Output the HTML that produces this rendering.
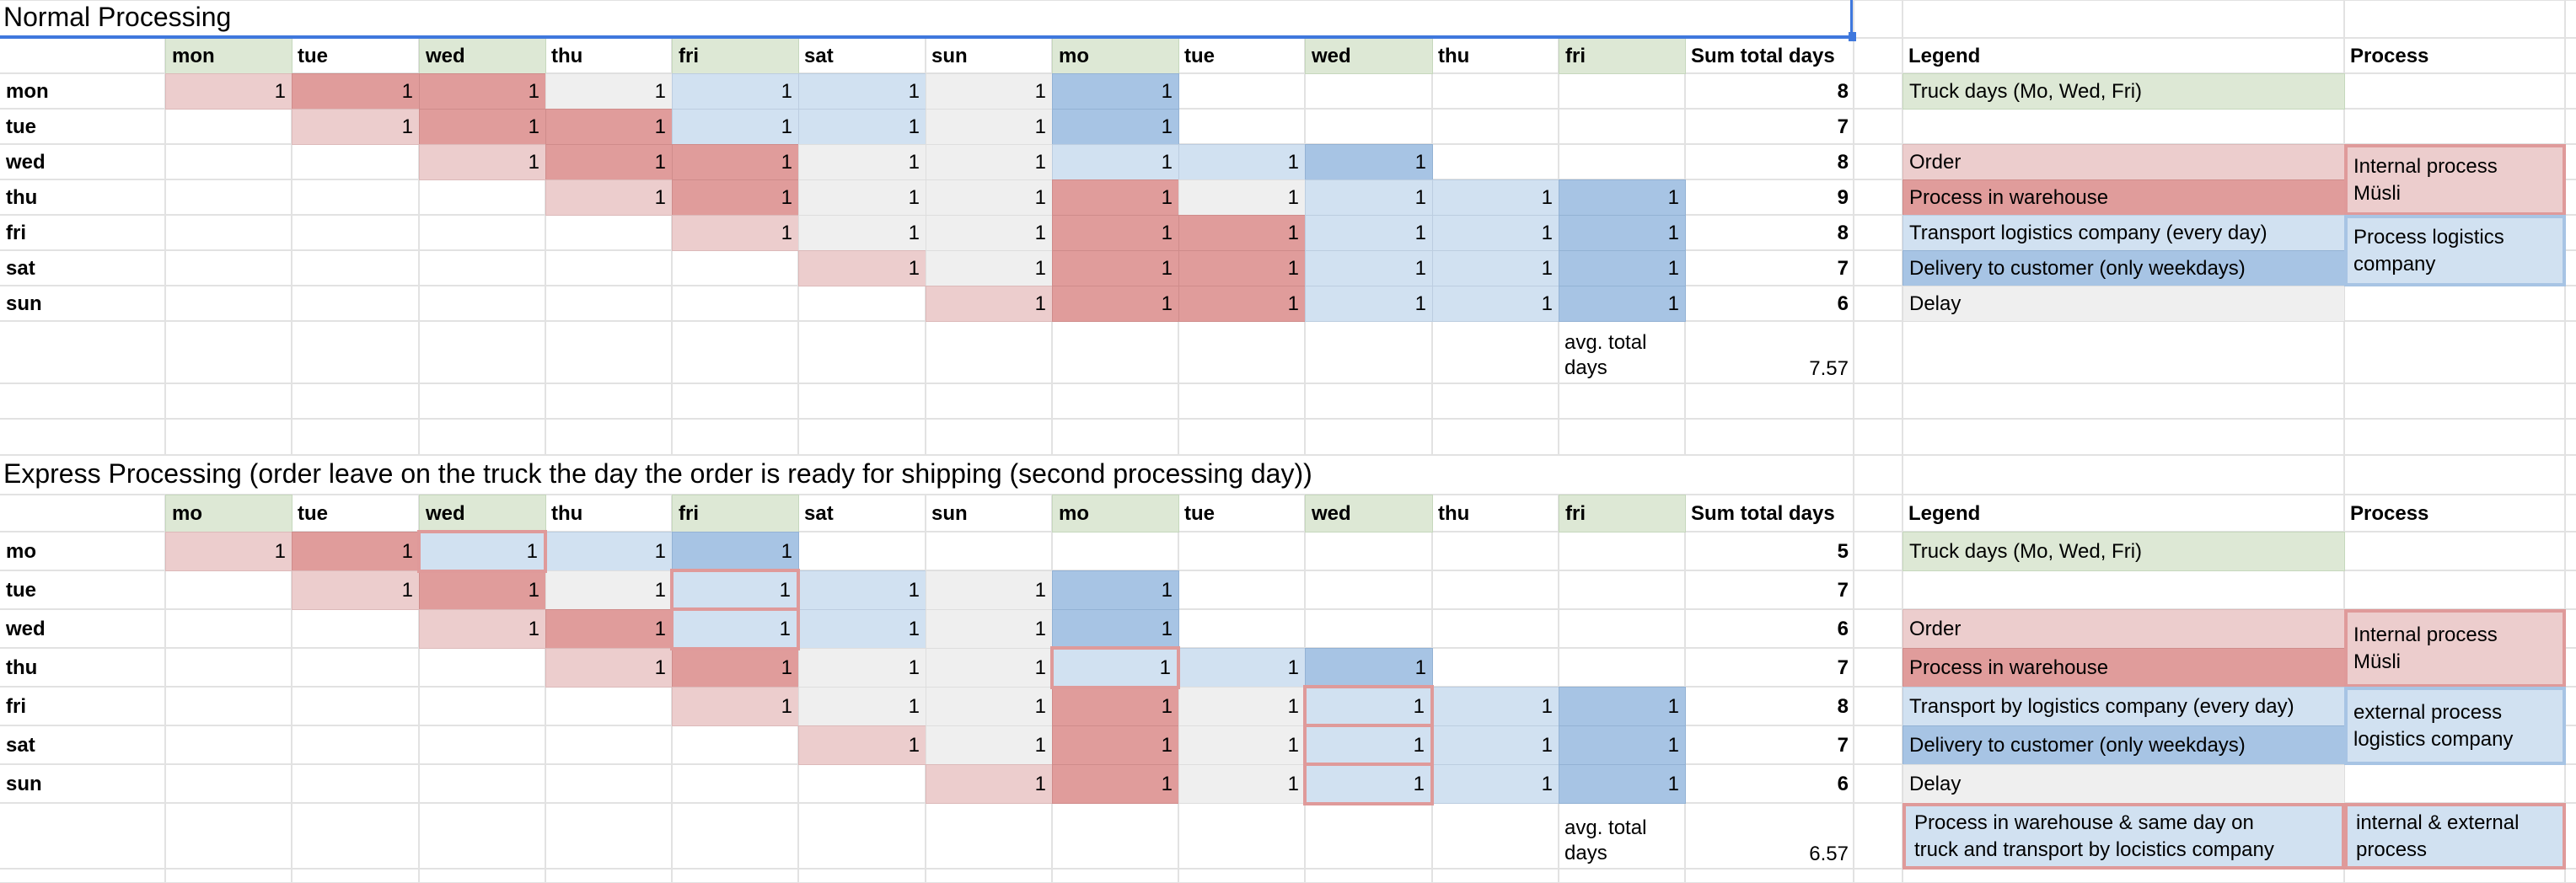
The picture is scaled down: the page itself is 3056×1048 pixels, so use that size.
<!DOCTYPE html>
<html><head><meta charset="utf-8">
<style>
html,body{margin:0;padding:0;background:#fff;}
#root{position:relative;width:3056px;height:1048px;overflow:hidden;background:#fff;font-family:"Liberation Sans",Arial,sans-serif;color:#000;}
.c{position:absolute;box-sizing:border-box;font-size:24px;white-space:nowrap;display:flex;align-items:center;padding:0 7px;}
.r{justify-content:flex-end;}
.b{font-weight:bold;}
.hl{position:absolute;height:2px;background:#e2e2e2;}
.vl{position:absolute;width:2px;background:#e2e2e2;}
.t{position:absolute;font-size:32px;white-space:nowrap;}
</style></head>
<body>
<div id="root"></div>
<script>
const normalHeaders = ['mon','tue','wed','thu','fri','sat','sun','mo','tue','wed','thu','fri'];
const expressHeaders = ['mo','tue','wed','thu','fri','sat','sun','mo','tue','wed','thu','fri'];
const truckCols = [0,2,4,7,9,11];
const normalRowLabels = ['mon','tue','wed','thu','fri','sat','sun'];
const expressRowLabels = ['mo','tue','wed','thu','fri','sat','sun'];
const normalStarts = [0,1,2,3,4,5,6];
const normalCodes = ['OPPGTTGD','OPPTTGD','OPPGGTTD','OPGGPGTTD','OGGPPTTD','OGPPTTD','OPPTTD'];
const normalSums = [8,7,8,9,8,7,6];
const normalAvg = '7.57';
const expressStarts = [0,1,2,3,4,5,6];
const expressCodes = ['OPXTD','OPGXTGD','OPXTGD','OPGGXTD','OGGPGXTD','OGPGXTD','OPGXTD'];
const expressSums = [5,7,6,7,8,7,6];
const expressAvg = '6.57';

const root = document.getElementById('root');
const COLORS = {O:'#eccdcd',P:'#e09c9b',T:'#d1e1f1',X:'#d1e1f1',D:'#a7c4e4',G:'#efefef',H:'#dde8d5'};
const EDGE = {O:'#dcb9b9',P:'#cf8c8b',T:'#bccde0',X:'#bccde0',D:'#93b2d4',G:'#dedede',H:'#c6d8bd'};
const RED = '#df9a9a';
const colX = [0,196];
for(let i=1;i<=12;i++) colX.push(Math.round(196+150.25*i));
colX.push(2199,2257,2781,3043,3056);
const topRows=[45,87];for(let i=1;i<=7;i++)topRows.push(87+42*i);topRows.push(455,497,540);
const botRows=[587,631];for(let i=1;i<=7;i++)botRows.push(631+46*i);botRows.push(1031);

function el(cls,x,y,w,h){const d=document.createElement('div');d.className=cls;d.style.left=x+'px';d.style.top=y+'px';d.style.width=w+'px';d.style.height=h+'px';root.appendChild(d);return d;}

const allRows=[0,...topRows,...botRows,1048];
allRows.forEach(y=>{const l=el('hl',0,y-1,3056,2);

});
colX.slice(1,-1).forEach(x=>{
  const segs=[[45,540],[587,1048]];
  if(x>=2199){segs.length=0;segs.push([0,1048]);}
  segs.forEach(s=>{const l=el('vl',x-1,s[0],2,s[1]-s[0]);
  
  });
});

function cell(ci,y0,y1,code,text,cls,name,span){
  const x0=colX[ci],x1=colX[ci+(span||1)];
  const d=el('c '+(cls||''),x0,y0,x1-x0+1,y1-y0+1);
  if(code){d.style.background=COLORS[code];d.style.border='1px solid '+EDGE[code];}
  if(text!==undefined)d.textContent=text;
  
  
  return d;
}

function section(rows,headers,labels,starts,codes,sums,avg,prefix){
  headers.forEach((h,i)=>{cell(i+1,rows[0],rows[1],truckCols.includes(i)?'H':null,h,'b',prefix+'-header-'+h);});
  cell(13,rows[0],rows[1],null,'Sum total days','b',prefix+'-sum-header');
  labels.forEach((lab,r)=>{
    const y0=rows[r+1],y1=rows[r+2];
    cell(0,y0,y1,null,lab,'b',prefix+'-row-label-'+lab);
    const codeStr=codes[r];
    for(let k=0;k<codeStr.length;k++){
      const c=codeStr[k];
      const d=cell(starts[r]+k+1,y0,y1,c,'1','r',prefix+'-cell-'+lab+'-'+c);
      if(c==='X'){d.style.border='4px solid '+RED;d.style.zIndex=3;d.style.left=(parseFloat(d.style.left)-2)+'px';d.style.top=(y0-2)+'px';d.style.width=(parseFloat(d.style.width)+3)+'px';d.style.height=(y1-y0+5)+'px';}
    }
    cell(13,y0,y1,null,String(sums[r]),'r b',prefix+'-sum-'+lab);
  });
  const ya=rows[8],yb=rows[9];
  const a=cell(12,ya,yb,null,'','',prefix+'-avg-label');
  a.style.whiteSpace='normal';a.style.lineHeight='30px';a.style.alignItems='flex-end';a.style.paddingBottom='4px';
  a.innerHTML='avg. total<br>days';
  const v=cell(13,ya,yb,null,avg,'r',prefix+'-avg-value');v.style.alignItems='flex-end';v.style.paddingBottom='4px';
}

function legend(rows,prefix,transportText,extText){
  cell(15,rows[0],rows[1],null,'Legend','b',prefix+'-legend-title');
  cell(16,rows[0],rows[1],null,'Process','b',prefix+'-process-title');
  cell(15,rows[1],rows[2],'H','Truck days (Mo, Wed, Fri)','',prefix+'-legend-truck-days');
  cell(15,rows[3],rows[4],'O','Order','',prefix+'-legend-order');
  cell(15,rows[4],rows[5],'P','Process in warehouse','',prefix+'-legend-process-warehouse');
  cell(15,rows[5],rows[6],'T',transportText,'',prefix+'-legend-transport');
  cell(15,rows[6],rows[7],'D','Delivery to customer (only weekdays)','',prefix+'-legend-delivery');
  cell(15,rows[7],rows[8],'G','Delay','',prefix+'-legend-delay');
  const p1=cell(16,rows[3],rows[5],'O','','',prefix+'-process-internal');
  p1.style.border='4px solid '+RED;p1.style.whiteSpace='normal';p1.style.lineHeight='32px';p1.innerHTML='Internal process<br>Müsli';
  const p2=cell(16,rows[5],rows[7],'T','','',prefix+'-process-external');
  p2.style.border='4px solid #a7c4e4';p2.style.whiteSpace='normal';p2.style.lineHeight='32px';p2.innerHTML=extText;
}

section(topRows,normalHeaders,normalRowLabels,normalStarts,normalCodes,normalSums,normalAvg,'normal');
section(botRows,expressHeaders,expressRowLabels,expressStarts,expressCodes,expressSums,expressAvg,'express');
legend(topRows,'normal','Transport logistics company (every day)','Process logistics<br>company');
legend(botRows,'express','Transport by logistics company (every day)','external process<br>logistics company');
const cb=cell(15,botRows[8],botRows[9],'X','','','express-legend-combined');
cb.style.border='4px solid '+RED;cb.style.whiteSpace='normal';cb.style.lineHeight='32px';cb.style.paddingLeft='10px';
cb.innerHTML='Process in warehouse &amp; same day on<br>truck and transport by locistics company';
const cp=cell(16,botRows[8],botRows[9],'X','','','express-process-combined');
cp.style.border='4px solid '+RED;cp.style.whiteSpace='normal';cp.style.lineHeight='32px';cp.style.paddingLeft='10px';
cp.innerHTML='internal &amp; external<br>process';

const t1=document.createElement('div');t1.className='t';t1.style.left='4px';t1.style.top='2px';t1.textContent='Normal Processing';


root.appendChild(t1);
const t2=document.createElement('div');t2.className='t';t2.style.left='4px';t2.style.top='544px';t2.textContent='Express Processing (order leave on the truck the day the order is ready for shipping (second processing day))';


root.appendChild(t2);
const s1=el('',0,42,2199,4);s1.style.position='absolute';s1.style.background='#3f78dd';


const s2=el('',2195,0,3,46);s2.style.position='absolute';s2.style.background='#3f78dd';


const s3=el('',2193,38,9,11);s3.style.position='absolute';s3.style.background='#3f78dd';


</script>
</body></html>
